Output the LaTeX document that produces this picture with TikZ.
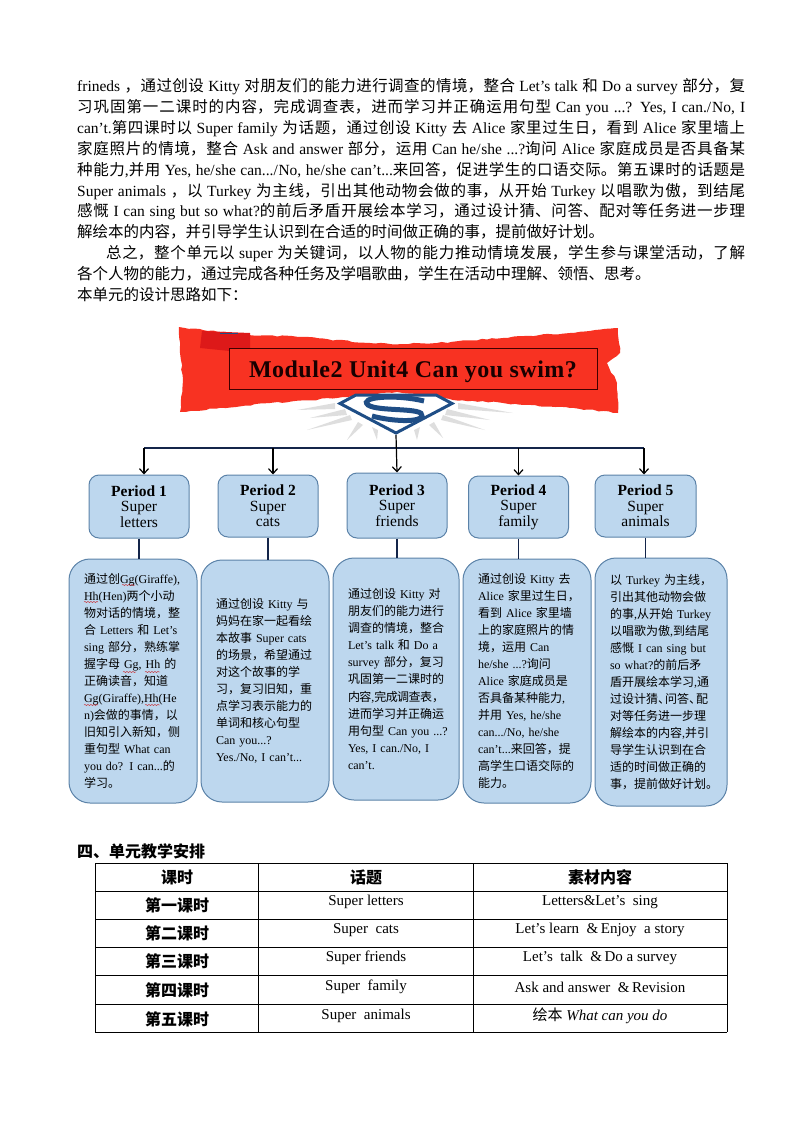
\documentclass[tikz,border=0pt]{standalone}
\usepackage{fontspec}
\setmainfont{Liberation Serif}
\newfontfamily\cjkfont{Noto Sans CJK SC}
\usetikzlibrary{arrows.meta,decorations.pathmorphing}
% Chinese runs switch font by themselves
\newXeTeXintercharclass\cjkclass
\count255="3000
\loop\XeTeXcharclass\count255=\cjkclass\ifnum\count255<"303F\advance\count255 by 1\repeat
\count255="4E00
\loop\XeTeXcharclass\count255=\cjkclass\ifnum\count255<"9FFF\advance\count255 by 1\repeat
\count255="FF00
\loop\XeTeXcharclass\count255=\cjkclass\ifnum\count255<"FF5E\advance\count255 by 1\repeat
\XeTeXinterchartokenstate=1
\XeTeXinterchartoks 0 \cjkclass={\cjkfont}
\XeTeXinterchartoks 4095 \cjkclass={\cjkfont}
\XeTeXinterchartoks \cjkclass 0={\rmfamily}
\XeTeXinterchartoks \cjkclass 4095={\rmfamily}
\XeTeXlinebreaklocale "zh"
\XeTeXlinebreakskip=0pt plus 2pt minus 1pt
% full width comma and colon
\newcommand{\zc}{^^^^ff0c}
\newcommand{\zcolon}{^^^^ff1a}
\definecolor{boxfill}{HTML}{BDD7EE}
\definecolor{boxline}{HTML}{5B82A8}
\definecolor{bannerred}{HTML}{F83222}
\definecolor{shieldblue}{HTML}{1F4E86}
\definecolor{navyline}{HTML}{14254A}
\tikzset{
	pbox/.style={draw=boxline,fill=boxfill,line width=1pt,rounded corners=10pt,align=center,inner sep=0pt,font=\fontsize{15.5}{15.5}\selectfont},
	dbox/.style={draw=boxline,fill=boxfill,line width=1pt,rounded corners=21pt,align=left,inner ysep=0pt,inner xsep=15pt,font=\fontsize{12}{17.05}\selectfont},
	link/.style={navyline,line width=1.3pt},
	drop/.style={black,line width=1.2pt,-{Straight Barb[length=5pt,width=9pt]}},
	squiggle/.style={red!80!black,line width=.4pt,decorate,decoration={snake,amplitude=.5pt,segment length=3pt}},
	ray/.style={fill=black!13},
	cell/.style={font=\fontsize{15}{15}\selectfont},
	headcell/.style={font=\fontsize{16}{16}\selectfont\bfseries}
}
\begin{document}
\begin{tikzpicture}[x=1pt,y=-1pt]
	\useasboundingbox (0,0) rectangle (794,1123);
	% text above the diagram
	\node[anchor=north west,inner sep=0pt,text width=668pt,align=justify,font=\fontsize{15.5}{20.85}\selectfont] (intro) at (77,78.5) {%
		frineds \zc{}通过创设 Kitty 对朋友们的能力进行调查的情境\zc{}整合 Let's talk 和 Do a survey 部分\zc{}复\linebreak
		习巩固第一二课时的内容\zc{}完成调查表\zc{}进而学习并正确运用句型 Can you ...? Yes, I can./No, I\linebreak
		can't.第四课时以 Super family 为话题\zc{}通过创设 Kitty 去 Alice 家里过生日\zc{}看到 Alice 家里墙上\linebreak
		家庭照片的情境\zc{}整合 Ask and answer 部分\zc{}运用 Can he/she ...?询问 Alice 家庭成员是否具备某\linebreak
		种能力,并用 Yes, he/she can.../No, he/she can't...来回答\zc{}促进学生的口语交际。第五课时的话题是\linebreak
		Super animals \zc{}以 Turkey 为主线\zc{}引出其他动物会做的事\zc{}从开始 Turkey 以唱歌为傲\zc{}到结尾\linebreak
		感慨 I can sing but so what?的前后矛盾开展绘本学习\zc{}通过设计猜、问答、配对等任务进一步理\linebreak
		解绘本的内容\zc{}并引导学生认识到在合适的时间做正确的事\zc{}提前做好计划。\newline
		\hspace*{29pt}总之\zc{}整个单元以 super 为关键词\zc{}以人物的能力推动情境发展\zc{}学生参与课堂活动\zc{}了解\linebreak
		各个人物的能力\zc{}通过完成各种任务及学唱歌曲\zc{}学生在活动中理解、领悟、思考。\newline
		本单元的设计思路如下\zcolon{}};
	% rays behind the shield
	\foreach \tx/\ty/\ax/\ay/\bx/\by in {297/410/335/403/335/409,310/418/345/409/347/415,307/430/350/415/352/420,347/440/358/422/363/425,377/440/372/427/378/430,513/413/458/403/458/409,490/420/447/409/445/415,485/430/443/415/441/420,443/438/434/422/429/425,417/440/420/427/414/430}
		\fill[ray] (\tx,\ty) -- (\ax,\ay) -- (\bx,\by) -- cycle;
	% torn banner
	\fill[bannerred,decorate,decoration={random steps,segment length=5pt,amplitude=.8pt}]
		(179,327) -- (203,330) -- (237,334) -- (303,337) -- (370,343) -- (403,344) -- (437,343) -- (503,338) -- (570,333) -- (618,328)
		-- (620,353) -- (607,363) -- (617,383) -- (618,413) -- (570,408) -- (503,403) -- (453,400) -- (397,392) -- (337,398) -- (270,403) -- (180,412)
		-- (183,380) -- (180,353) -- cycle;
	\fill[red!85!black!90] (202,331) -- (250,333) -- (250,353) -- (200,348) -- cycle;
	\fill[shieldblue] (220,332.5) -- (238,332.5) -- (238,333.5) -- (220,333.5) -- cycle;
	\node[draw=black!75!red,fill=bannerred,line width=.8pt,minimum width=368pt,minimum height=41pt,inner sep=0pt,font=\fontsize{24}{24}\selectfont\bfseries\addfontfeature{LetterSpace=2},text=black!90!red] (title) at (413,368.5) {\raisebox{-8.5pt}[0pt][0pt]{Module2 Unit4 Can you swim?}};
	% shield
	\fill[white,draw=shieldblue,line width=3pt,line join=miter] (356,395) -- (436,395) -- (452,403.5) -- (396,433) -- (340,403.5) -- cycle;
	\draw[shieldblue,line width=5pt] (424,401) .. controls (395,394) and (358,397) .. (368,405) .. controls (378,412) and (425,407) .. (422,416) .. controls (420,423) and (390,421) .. (372,416);
	\coordinate (shieldtip) at (396,435);
	\coordinate (trunk) at (396,448);
	% period boxes
	\node[pbox,minimum width=100pt,minimum height=63pt] (p1) at (139,506.5) {\textbf{Period 1}\\Super\\letters};
	\node[pbox,minimum width=100pt,minimum height=62pt] (p2) at (268,506) {\textbf{Period 2}\\Super\\cats};
	\node[pbox,minimum width=100pt,minimum height=65pt] (p3) at (397,505.5) {\textbf{Period 3}\\Super\\friends};
	\node[pbox,minimum width=100pt,minimum height=62pt] (p4) at (518.5,507) {\textbf{Period 4}\\Super\\family};
	\node[pbox,minimum width=101pt,minimum height=62pt] (p5) at (645.5,506) {\textbf{Period 5}\\Super\\animals};
	% boxes with the lesson text
	\node[dbox,text width=98pt,minimum height=244pt] (d1) at (133,681) {通过创Gg(Giraffe),\\Hh(Hen)两个小动\\物对话的情境\zc{}整\\合 Letters 和 Let's\\sing 部分\zc{}熟练掌\\握字母 Gg, Hh 的\\正确读音\zc{}知道\\Gg(Giraffe),Hh(He\\n)会做的事情\zc{}以\\旧知引入新知\zc{}侧\\重句型 What can\\you do? I can...的\\学习。};
	\node[dbox,text width=98pt,minimum height=242pt] (d2) at (265,681) {通过创设 Kitty 与\\妈妈在家一起看绘\\本故事 Super cats\\的场景\zc{}希望通过\\对这个故事的学\\习\zc{}复习旧知\zc{}重\\点学习表示能力的\\单词和核心句型\\Can you...?\\Yes./No, I can't...};
	\node[dbox,text width=96pt,minimum height=242pt] (d3) at (396,679) {通过创设 Kitty 对\\朋友们的能力进行\\调查的情境\zc{}整合\\Let's talk 和 Do a\\survey 部分\zc{}复习\\巩固第一二课时的\\内容,完成调查表\zc{}\\进而学习并正确运\\\leavevmode\rlap{用句型 Can you ...?}\\Yes, I can./No, I\\can't.};
	\node[dbox,text width=98pt,minimum height=244pt] (d4) at (527,681) {通过创设 Kitty 去\\\leavevmode\rlap{Alice 家里过生日\zc{}}\\看到 Alice 家里墙\\上的家庭照片的情\\境\zc{}运用 Can\\he/she ...?询问\\Alice 家庭成员是\\否具备某种能力,\\并用 Yes, he/she\\can.../No, he/she\\can't...来回答\zc{}提\\高学生口语交际的\\能力。};
	\node[dbox,text width=102pt,minimum height=248pt] (d5) at (661,682) {以 Turkey 为主线\zc{}\\引出其他动物会做\\的事,从开始 Turkey\\以唱歌为傲,到结尾\\感慨 I can sing but\\so what?的前后矛\\盾开展绘本学习,通\\\leavevmode\rlap{过设计猜、\kern-5pt问答、\kern-5pt配}\\对等任务进一步理\\解绘本的内容,并引\\导学生认识到在合\\适的时间做正确的\\\leavevmode\rlap{事\zc{}提前做好计划。}};
	% connectors
	\draw[link] ([xshift=5pt]p1.north |- trunk) -- ([xshift=-1.5pt]p5.north |- trunk);
	\draw[drop] (shieldtip) -- (p3.north);
	\foreach \n/\dx in {p1/5,p2/5,p4/0,p5/-1.5}
		\draw[drop] ([xshift=\dx pt]\n.north |- trunk) -- ([xshift=\dx pt]\n.north);
	\foreach \n/\m in {p1/d1,p2/d2,p3/d3,p4/d4,p5/d5}
		\draw[link] (\n.south) -- (\n.south |- \m.north);
	% spelling marks
	\draw[squiggle] (122,585) -- (135,585);
	\draw[squiggle] (84,602) -- (98,602);
	\draw[squiggle] (123,672) -- (136,672);
	\draw[squiggle] (145,672) -- (160,672);
	\draw[squiggle] (84,705) -- (98,705);
	\draw[squiggle] (145,705) -- (160,705);
	% section heading and table
	\node[anchor=west,inner sep=0pt,font=\fontsize{16}{16}\selectfont\bfseries] (heading) at (77,851.5) {四、单元教学安排};
	\foreach \y in {863,891,919,947,975,1004,1032}
		\draw[line width=.9pt] (95,\y) -- (727,\y);
	\foreach \x in {95,258,473,727}
		\draw[line width=.7pt] (\x,863) -- (\x,1032);
	\node[headcell] (h1) at (177,877) {课时};
	\node[headcell] (h2) at (366,877) {话题};
	\node[headcell] (h3) at (600,877) {素材内容};
	\foreach \i/\y/\name/\topic/\stuff in {1/905/第一课时/{Super letters}/{Letters\&Let’s\ \ sing},2/933/第二课时/{Super\ \ cats}/{Let’s learn \ \&\,Enjoy\ \ a story},3/961/第三课时/{Super friends}/{Let’s\ \ talk \ \&\,Do a survey},4/990/第四课时/{Super\ \ family}/{Ask and answer \ \&\,Revision},5/1019/第五课时/{Super\ \ animals}/{绘本 \textit{What can you do}}}{
		\node[headcell] (r\i a) at (177,\y) {\name};
		\node[cell] (r\i b) at (366,\y-3) {\topic};
		\node[cell] (r\i c) at (600,\y-3) {\stuff};
	}
\end{tikzpicture}
\end{document}
